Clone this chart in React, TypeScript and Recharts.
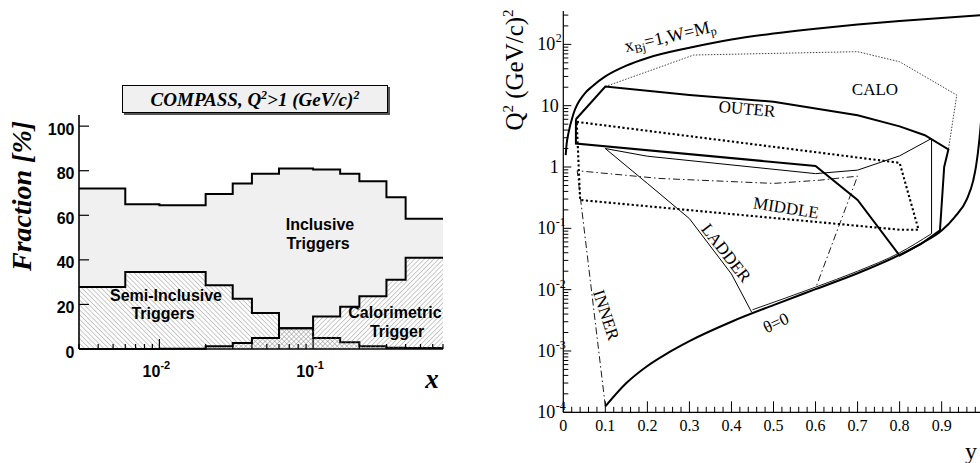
import React from "react";
import { ComposedChart, Area, Line, XAxis, YAxis } from "recharts";

const SANS = "'Liberation Sans', Arial, Helvetica, sans-serif";
const SERIF = "'Liberation Serif', 'Times New Roman', Times, serif";

// left panel: trigger fractions in bins of x (bin edges, then one value per bin)
const binEdges = [0.003, 0.006, 0.01, 0.02, 0.03, 0.04, 0.06, 0.1, 0.15, 0.2, 0.3, 0.4, 0.7];
const inclusiveAll = [72, 65, 64.5, 69.5, 74.3, 78.6, 81, 80.5, 78.6, 75.3, 68.1, 58.4];
const semiInclusive = [27.8, 34.6, 34.6, 28.6, 22.6, 16.2, 9.3, 4.9, 3.0, 1.2, 0.6, 0.4];
const calorimetric = [0, 0, 0.1, 1.2, 2.7, 4.9, 9.3, 14.6, 19.0, 23.7, 31.1, 40.9];
const fractionTicks = [0, 20, 40, 60, 80, 100];
const xMajorTicks = [0.01, 0.1];
const xAllTicks = [
  0.003, 0.004, 0.005, 0.006, 0.007, 0.008, 0.009, 0.01, 0.02, 0.03, 0.04, 0.05,
  0.06, 0.07, 0.08, 0.09, 0.1, 0.2, 0.3, 0.4, 0.5, 0.6, 0.7,
];

// right panel: trigger acceptance boundaries in (y, Q2)
const kinY = [0.0057, 0.008, 0.012, 0.024, 0.05, 0.07, 0.1, 0.15, 0.2, 0.3, 0.4, 0.5, 0.6, 0.7, 0.8, 0.9, 1.0];
const kinQ2 = [1.56, 2.4, 3.5, 7.3, 15.5, 21, 30, 45, 60, 88, 120, 150, 180, 210, 240, 270, 300];

const thetaY = [0.1, 0.15, 0.2, 0.25, 0.3, 0.4, 0.5, 0.6, 0.7, 0.8, 0.85, 0.9, 0.93, 0.96, 0.975, 0.982, 0.99, 0.995];
const thetaQ2 = [1.25e-4, 3.0e-4, 5.7e-4, 9.4e-4, 1.45e-3, 3.0e-3, 5.6e-3, 0.0102, 0.0185, 0.037, 0.056, 0.092, 0.15, 0.3, 0.6, 1.05, 2.9, 7];

const edgeY = [0.45, 0.6, 0.7, 0.8, 0.876];
const edgeQ2 = [0.0047, 0.011, 0.02, 0.04, 0.082];

const outerY = [0.03, 0.1, 0.3, 0.5, 0.6, 0.7, 0.8, 0.86, 0.916, 0.906, 0.896, 0.85, 0.8, 0.7, 0.6, 0.03, 0.03];
const outerQ2 = [6.0, 20.5, 14.9, 11.6, 9.0, 7.0, 4.6, 3.3, 1.93, 1.0, 0.093, 0.055, 0.036, 0.29, 1.04, 2.42, 6.0];

const middleY = [0.032, 0.8, 0.845, 0.8, 0.04, 0.032];
const middleQ2 = [5.45, 1.17, 0.095, 0.095, 0.29, 5.45];

const caloY = [0.1, 0.31, 0.7, 0.8, 0.936, 0.916];
const caloQ2 = [20.5, 67, 76, 52, 14.9, 1.93];

const envY = [0.1, 0.2, 0.6, 0.7, 0.8, 0.876, 0.876];
const envQ2 = [2.0, 1.5, 0.78, 0.89, 1.52, 2.92, 0.082];

const ladderY = [0.1, 0.2, 0.3, 0.4, 0.448];
const ladderQ2 = [2.0, 0.54, 0.144, 0.018, 0.0043];

const innerY = [0.1, 0.033, 0.23, 0.5, 0.61, 0.7, 0.6];
const innerQ2 = [1.25e-4, 0.87, 0.65, 0.54, 0.61, 0.71, 0.0105];

const yTicks = Array.from({ length: 51 }, (_, i) => i / 50);
const q2Ticks: number[] = [];
for (let e = -4; e <= 2; e++) {
  for (let m = 1; m <= 9; m++) {
    const v = m * Math.pow(10, e);
    if (v <= 350) q2Ticks.push(v);
  }
}

const histData = binEdges.map((x, i) => {
  const j = Math.min(i, inclusiveAll.length - 1);
  return { x, all: inclusiveAll[j], semi: semiInclusive[j], calo: calorimetric[j] };
});

const zip = (ys: number[], qs: number[]) => ys.map((y, i) => ({ y, q: qs[i] }));

const LeftXTick = (props: any) => {
  const { x, y, payload } = props;
  const v = payload.value as number;
  const major = xMajorTicks.includes(v);
  return (
    <g>
      <line x1={x} x2={x} y1={y} y2={y - (major ? 10 : 5)} stroke="#000" strokeWidth={1.2} />
      {major && (
        <text x={x - 3} y={y + 27.5} textAnchor="middle" fontFamily={SANS} fontWeight="bold" fontSize={16}>
          10<tspan dy={-8} fontSize={11}>{Math.round(Math.log10(v))}</tspan>
        </text>
      )}
    </g>
  );
};

const LeftYTick = (props: any) => {
  const { x, y, payload } = props;
  return (
    <g>
      <line x1={x} x2={x + 10} y1={y} y2={y} stroke="#000" strokeWidth={1.2} />
      <text x={x - 4.5} y={y + 8.5} textAnchor="end" fontFamily={SANS} fontWeight="bold" fontSize={16}>
        {payload.value}
      </text>
    </g>
  );
};

const RightXTick = (props: any) => {
  const { x, y, payload } = props;
  const i = Math.round(payload.value * 50);
  const major = i % 5 === 0;
  return (
    <g>
      <line x1={x} x2={x} y1={y} y2={y - (major ? 11 : 5.5)} stroke="#000" strokeWidth={1} />
      {major && i < 50 && (
        <text x={x} y={y + 19} textAnchor="middle" fontFamily={SERIF} fontSize={16}>
          {i === 0 ? "0" : (i / 50).toFixed(1)}
        </text>
      )}
    </g>
  );
};

const RightYTick = (props: any) => {
  const { x, y, payload } = props;
  const v = payload.value as number;
  const e = Math.round(Math.log10(v));
  const major = Math.abs(v / Math.pow(10, e) - 1) < 1e-6;
  let label: React.ReactNode = null;
  if (major) {
    if (e === 0 || e === 1) {
      label = (
        <text x={x - 4.5} y={y + 6} textAnchor="end" fontFamily={SERIF} fontSize={18}>
          {e === 0 ? "1" : "10"}
        </text>
      );
    } else {
      label = (
        <g fontFamily={SERIF}>
          <text x={x - 8} y={y + 6} textAnchor="end" fontSize={18}>10</text>
          <text x={x - 7.5} y={y - 2} textAnchor="start" fontSize={12}>{e}</text>
        </g>
      );
    }
  }
  return (
    <g>
      <line x1={x} x2={x + (major ? 8 : 5)} y1={y} y2={y} stroke="#000" strokeWidth={1} />
      {label}
    </g>
  );
};

function FractionPanel() {
  return (
    <ComposedChart width={490} height={463} data={histData} margin={{ top: 115, right: 47, left: 39, bottom: 84 }}>
      <defs>
        <pattern id="hatchSemi" patternUnits="userSpaceOnUse" width="3.4" height="3.4" patternTransform="rotate(-45)">
          <line x1="0" y1="0" x2="0" y2="3.4" stroke="#777" strokeWidth="0.8" />
        </pattern>
        <pattern id="hatchCalo" patternUnits="userSpaceOnUse" width="3.4" height="3.4" patternTransform="rotate(45)">
          <line x1="0" y1="0" x2="0" y2="3.4" stroke="#777" strokeWidth="0.8" />
        </pattern>
      </defs>
      <XAxis
        dataKey="x"
        type="number"
        scale="log"
        domain={[0.003, 0.7]}
        allowDataOverflow
        ticks={xAllTicks}
        interval={0}
        tickSize={0}
        tickMargin={0}
        tickLine={false}
        height={30}
        axisLine={{ stroke: "#000", strokeWidth: 1.6 }}
        tick={(p: any) => <LeftXTick {...p} />}
      />
      <XAxis xAxisId="top" orientation="top" dataKey="x" type="number" scale="log" domain={[0.003, 0.7]}
        allowDataOverflow height={0} tick={false} tickLine={false} axisLine={{ stroke: "#000", strokeWidth: 1.6 }} />
      <YAxis
        type="number"
        domain={[0, 105]}
        ticks={fractionTicks}
        interval={0}
        width={40}
        tickSize={0}
        tickMargin={0}
        tickLine={false}
        axisLine={{ stroke: "#000", strokeWidth: 1.6 }}
        tick={(p: any) => <LeftYTick {...p} />}
      />
      <YAxis yAxisId="right" orientation="right" type="number" domain={[0, 105]} width={0} tick={false}
        tickLine={false} axisLine={{ stroke: "#000", strokeWidth: 1.6 }} />
      <Area dataKey="all" type="stepAfter" fill="#f0f0f0" fillOpacity={1} stroke="#000" strokeWidth={2} isAnimationActive={false} dot={false} activeDot={false} />
      <Area dataKey="semi" type="stepAfter" fill="#fff" fillOpacity={1} stroke="none" isAnimationActive={false} dot={false} activeDot={false} />
      <Area dataKey="calo" type="stepAfter" fill="#fff" fillOpacity={1} stroke="none" isAnimationActive={false} dot={false} activeDot={false} />
      <Area dataKey="semi" type="stepAfter" fill="url(#hatchSemi)" fillOpacity={1} stroke="#000" strokeWidth={2} isAnimationActive={false} dot={false} activeDot={false} />
      <Area dataKey="calo" type="stepAfter" fill="url(#hatchCalo)" fillOpacity={1} stroke="#000" strokeWidth={2} isAnimationActive={false} dot={false} activeDot={false} />
    </ComposedChart>
  );
}

function KinematicsPanel() {
  const line = (ys: number[], qs: number[], key: string, style: any, type: any = "linear") => (
    <Line
      key={key}
      data={zip(ys, qs)}
      dataKey="q"
      type={type}
      dot={false}
      activeDot={false}
      isAnimationActive={false}
      {...style}
    />
  );
  return (
    <ComposedChart width={510} height={463} margin={{ top: 11, right: 16.3, left: 13.3, bottom: 20.7 }}>
      <XAxis
        dataKey="y"
        type="number"
        domain={[0, 1]}
        allowDataOverflow
        ticks={yTicks}
        interval={0}
        tickSize={0}
        tickMargin={0}
        tickLine={false}
        height={30}
        axisLine={{ stroke: "#000", strokeWidth: 1.2 }}
        tick={(p: any) => <RightXTick {...p} />}
      />
      <XAxis xAxisId="top" orientation="top" dataKey="y" type="number" domain={[0, 1]} height={0}
        tick={false} tickLine={false} axisLine={{ stroke: "#000", strokeWidth: 1 }} />
      <YAxis
        type="number"
        scale="log"
        domain={[0.0001, 350]}
        allowDataOverflow
        ticks={q2Ticks}
        interval={0}
        width={60}
        tickSize={0}
        tickMargin={0}
        tickLine={false}
        axisLine={{ stroke: "#000", strokeWidth: 1.2 }}
        tick={(p: any) => <RightYTick {...p} />}
      />
      {line(caloY, caloQ2, "calo", { stroke: "#444", strokeWidth: 1, strokeDasharray: "1.5 1.5" })}
      {line(innerY, innerQ2, "inner", { stroke: "#000", strokeWidth: 0.9, strokeDasharray: "7 3 1.5 3" })}
      {line(envY, envQ2, "env", { stroke: "#000", strokeWidth: 1 })}
      {line(ladderY, ladderQ2, "ladder", { stroke: "#000", strokeWidth: 1 })}
      {line(edgeY, edgeQ2, "edge", { stroke: "#000", strokeWidth: 0.9 }, "monotone")}
      {line(middleY, middleQ2, "middle", { stroke: "#000", strokeWidth: 2.1, strokeDasharray: "2.2 2.4" })}
      {line(outerY, outerQ2, "outer", { stroke: "#000", strokeWidth: 2 })}
      {line(thetaY, thetaQ2, "theta", { stroke: "#000", strokeWidth: 2 }, "monotone")}
      {line(kinY, kinQ2, "kin", { stroke: "#000", strokeWidth: 2 }, "monotone")}
    </ComposedChart>
  );
}

export default function App() {
  const t17 = { fontFamily: SERIF, fontSize: 17, textAnchor: "middle" as const, dominantBaseline: "central" as const };
  const lab = { fontFamily: SANS, fontWeight: "bold" as const, fontSize: 16, textAnchor: "middle" as const };
  return (
    <div style={{ position: "fixed", left: 0, top: 0, width: 980, height: 463, overflow: "hidden", background: "#fff" }}>
      <div style={{ position: "absolute", left: 0, top: 0 }}>
        <FractionPanel />
      </div>
      <div style={{ position: "absolute", left: 490, top: 0 }}>
        <KinematicsPanel />
      </div>
      <div
        style={{
          position: "absolute",
          left: 122,
          top: 85,
          width: 264,
          height: 26,
          background: "#f0f0f0",
          border: "1px solid #000",
          boxShadow: "2px 2px 0 #555",
          fontFamily: SERIF,
          fontWeight: "bold",
          fontStyle: "italic",
          fontSize: 19,
          lineHeight: "27px",
          textAlign: "center",
          whiteSpace: "nowrap",
        }}
      >
        COMPASS, Q<sup style={{ fontSize: 12, lineHeight: 0 }}>2</sup>&gt;1 (GeV/c)<sup style={{ fontSize: 12, lineHeight: 0 }}>2</sup>
      </div>
      <svg width={980} height={463} style={{ position: "absolute", left: 0, top: 0, pointerEvents: "none" }}>
        <text transform="translate(31,196) rotate(-90)" textAnchor="middle" fontFamily={SERIF} fontWeight="bold" fontStyle="italic" fontSize={28}>
          Fraction [%]
        </text>
        <text x={432} y={388} textAnchor="middle" fontFamily={SERIF} fontWeight="bold" fontStyle="italic" fontSize={27}>
          x
        </text>
        <text x={320} y={230} {...lab}>Inclusive</text>
        <text x={318} y={248.5} {...lab}>Triggers</text>
        <text x={166} y={300.5} {...lab}>Semi-Inclusive</text>
        <text x={163} y={319} {...lab}>Triggers</text>
        <text x={395} y={318} {...lab}>Calorimetric</text>
        <text x={397} y={336.5} {...lab}>Trigger</text>

        <text transform="translate(523,70) rotate(-90)" textAnchor="middle" fontFamily={SERIF} fontSize={25}>
          Q<tspan dy={-10} fontSize={15}>2</tspan>
          <tspan dy={10}> (GeV/c)</tspan>
          <tspan dy={-10} fontSize={15}>2</tspan>
        </text>
        <text x={965} y={459} fontFamily={SERIF} fontSize={24}>y</text>
        <text transform="translate(670,36) rotate(-13)" {...t17} fontSize={18}>
          x<tspan dy={5} fontSize={12}>Bj</tspan>
          <tspan dy={-5}>=1,W=M</tspan>
          <tspan dy={5} fontSize={12}>p</tspan>
        </text>
        <text transform="translate(875,89)" {...t17}>CALO</text>
        <text transform="translate(747,109) rotate(5)" {...t17}>OUTER</text>
        <text transform="translate(786,208) rotate(9)" {...t17}>MIDDLE</text>
        <text transform="translate(726,253) rotate(52)" {...t17}>LADDER</text>
        <text transform="translate(606,315) rotate(72)" {...t17}>INNER</text>
        <text transform="translate(776,323) rotate(-25)" {...t17}>θ=0</text>
      </svg>
    </div>
  );
}
